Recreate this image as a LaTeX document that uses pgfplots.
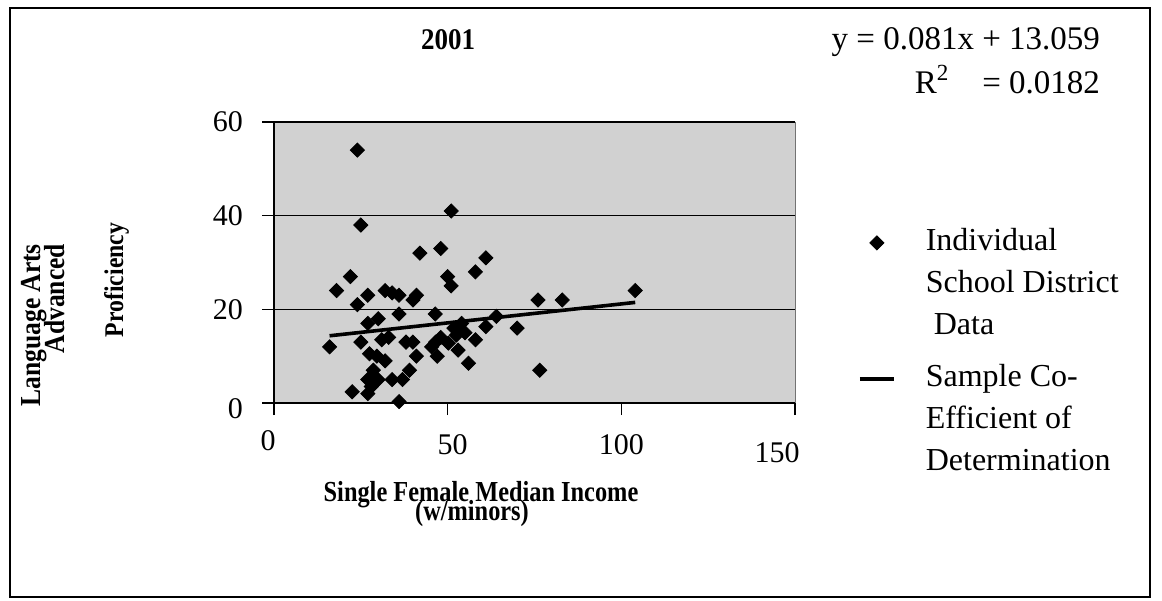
\documentclass[border=0pt]{standalone}
\usepackage{fontspec}
\setmainfont{Liberation Serif}
\usepackage{pgfplots}
\pgfplotsset{compat=1.18}
\newcommand{\rs}{\rule[-1pt]{0pt}{20.5pt}}
\newcommand{\rsb}{\rule[-1pt]{0pt}{25.5pt}}
\newcommand{\cond}[2][0.86]{\scalebox{#1}[1]{#2}}
\begin{document}
\begin{tikzpicture}
\path (0pt,0pt) rectangle (581pt,-300pt);
\begin{scope}[x=0.5pt,y=-0.5pt]
\draw[line width=0.6pt] (10,8) rectangle (1150,597);
\node[anchor=base, font=\fontsize{15}{17}\selectfont\bfseries] at (448,49) {\cond[0.9]{2001}};
\node[anchor=base east, font=\fontsize{16.5}{18}\selectfont] at (1107,49) {y = 0.081x + 13.059};
\node[anchor=base east, font=\fontsize{16.5}{18}\selectfont] at (1107,93) {R\textsuperscript{2}\quad= 0.0182};
\node[anchor=base, font=\fontsize{14.5}{16}\selectfont\bfseries] at (481,501) {\cond[0.84]{Single Female Median Income}};
\node[anchor=base, font=\fontsize{14.5}{16}\selectfont\bfseries] at (472,520) {\cond[0.84]{(w/minors)}};
\node[rotate=90, anchor=base east, font=\fontsize{14.5}{16}\selectfont\bfseries] at (40,237) {\cond[0.88]{Language Arts}};
\node[rotate=90, anchor=base east, font=\fontsize{14.5}{16}\selectfont\bfseries] at (64,237) {\cond[0.88]{Advanced}};
\node[rotate=90, anchor=base, font=\fontsize{13.5}{16}\selectfont\bfseries] at (123,280) {\cond[0.88]{Proficiency}};
\end{scope}
\begin{axis}[
  at={(137pt,-201.5pt)}, anchor=south west,
  scale only axis, width=260.5pt, height=140.5pt,
  xmin=0, xmax=150, ymin=0, ymax=60,
  xtick={0,50,100,150}, ytick={0,20,40,60},
  xticklabels={{\raisebox{2pt}[\height][\depth]{0}\hspace*{6pt}},{\hspace*{5pt}50},100,{\raisebox{-4pt}[\height][\depth]{150}\hspace*{18pt}}},
  yticklabels={\raisebox{-3pt}[\height][\depth]{0},20,40,60},
  axis background/.style={fill=black!18},
  axis x line*=bottom, axis y line*=left,
  ymajorgrids, grid style={black, line width=0.6pt},
  tick align=outside, major tick length=6pt,
  axis line style={line width=0.8pt},
  tick style={black, line width=0.7pt},
  /pgf/number format/assume math mode=true,
  tick label style={font=\fontsize{15}{17}\selectfont},
  xticklabel style={yshift=-6pt},
  yticklabel style={xshift=-6pt},
  clip=false,
  legend style={at={(rel axis cs:1.121,0.680)}, anchor=north west, draw=none, fill=none,
    inner sep=0pt, outer sep=0pt, row sep=0pt, nodes={inner sep=0pt, outer sep=0pt},
    cells={anchor=base west},
    font=\fontsize{16}{20.5}\selectfont},
  legend image post style={yshift=4pt},
]
\addplot[only marks, mark=square*, mark size=2.5pt, mark options={rotate=45, fill=black, draw=black}] coordinates {
(16,12) (18,24) (22,27) (22.5,2.4) (24,54) (24,21) (25,38) (25,13) (27,23) (27,17)
(27,5) (27,2) (27.5,10.5) (28,3.5) (28.6,7) (29.6,10) (30,18) (30,5) (31,13.5) (32,24)
(33,14) (32,9) (34,23.5) (34,5) (36,23) (36,19) (36,0.3) (37,5) (38,13) (39,7)
(40,22) (40,13) (41,23) (41,10) (42,32) (45.4,12) (46.4,19) (46.5,13) (47,10) (48,33)
(48,14) (50,27) (50.2,12.8) (51,41) (51,25) (51.8,16) (52.5,14.5) (53,11.3) (53.5,15.5) (54,17)
(55,15) (56,8.5) (58,28) (58,13.5) (61,31) (61,16.3) (64,18.5) (70,16) (76,22) (76.5,7)
(83,22) (104,24)
};
\addlegendentry{\rs\hspace*{15pt}Individual}
\addlegendimage{empty legend}
\addlegendentry{\rs\hspace*{15pt}School District}
\addlegendimage{empty legend}
\addlegendentry{\rs\hspace*{19pt}Data}
\addplot[black, line width=1.8pt, no marks] coordinates {(16,14.355) (104,21.483)};
\addlegendentry{\rsb\hspace*{15pt}Sample Co-}
\addlegendimage{empty legend}
\addlegendentry{\rs\hspace*{15pt}Efficient of}
\addlegendimage{empty legend}
\addlegendentry{\rs\hspace*{15pt}Determination}
\draw[black!55, line width=0.5pt] (axis cs:150,0) -- (axis cs:150,60);
\end{axis}
\end{tikzpicture}
\end{document}
